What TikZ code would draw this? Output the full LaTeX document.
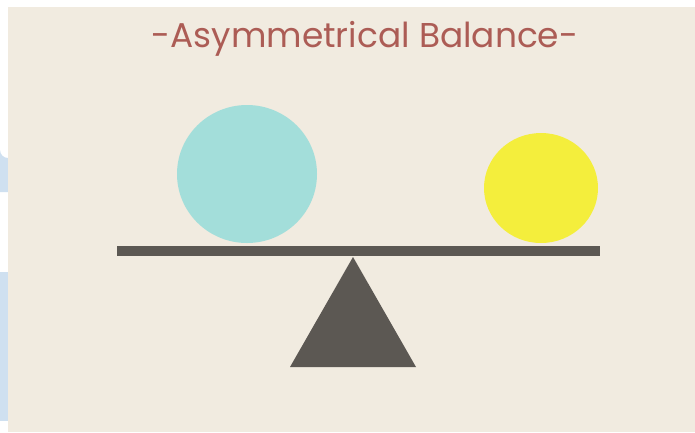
\documentclass[tikz,border=0pt]{standalone}
\usepackage{fontspec}
\newfontfamily\titlefont{Poppins}
\definecolor{paper}{HTML}{F1EBE0}
\definecolor{edgeblue}{HTML}{CFE0F0}
\definecolor{titlered}{HTML}{AC5C55}
\definecolor{cyanball}{HTML}{A3DEDA}
\definecolor{yellowball}{HTML}{F4EE3C}
\definecolor{beamgray}{HTML}{5C5853}
\tikzset{
  solid shape/.style={fill=beamgray, draw=none},
}
\begin{document}
\begin{tikzpicture}[x=1pt,y=-1pt]
  \useasboundingbox (0,0) rectangle (695,432);
  \fill[white] (0,0) rectangle (695,432);
  % light blue bands at the left edge
  \fill[edgeblue] (0,192) -- (0,150) arc[start angle=180,end angle=90,radius=8] -- (8,142) -- (8,192) -- cycle;
  \fill[edgeblue] (0,272) rectangle (8,421);
  % paper
  \fill[paper] (8,7) rectangle (695,432);
  % title
  \node[text=titlered, font=\titlefont\fontsize{34.4}{38}\selectfont] (title) at (365,39) {-Asymmetrical Balance-};
  % balls
  \fill[cyanball] (247,174) ellipse[x radius=70, y radius=69];
  \fill[yellowball] (541,188) ellipse[x radius=57, y radius=55];
  % beam
  \fill[solid shape] (117,246) rectangle (600,256);
  % fulcrum
  \fill[solid shape] (353,257) -- (416,367) -- (290,367) -- cycle;
\end{tikzpicture}
\end{document}
